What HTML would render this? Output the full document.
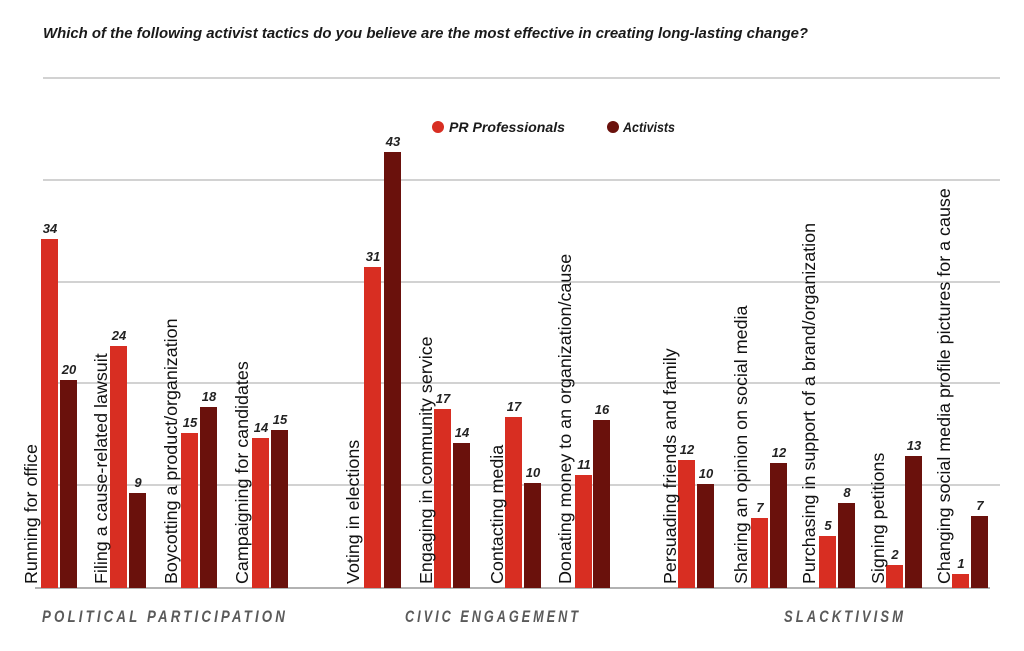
<!DOCTYPE html>
<html><head><meta charset="utf-8"><style>
html,body{margin:0;padding:0;background:#fff;}
svg{display:block;}
.t{font-family:"Liberation Sans",sans-serif;}
.v{font-family:"Liberation Sans",sans-serif;font-weight:bold;font-style:italic;font-size:13px;fill:#222;}
.l{font-family:"Liberation Sans",sans-serif;font-size:17.9px;fill:#111;}
.c{font-family:"Liberation Sans",sans-serif;font-weight:bold;font-style:italic;font-size:17px;fill:#5a5a5a;letter-spacing:4px;}
</style></head><body>
<svg width="1024" height="651" viewBox="0 0 1024 651">
<text x="43" y="38" class="t" font-weight="bold" font-style="italic" font-size="15" fill="#1a1a1a" textLength="765" lengthAdjust="spacingAndGlyphs">Which of the following activist tactics do you believe are the most effective in creating long-lasting change?</text>
<g stroke="#c4c4c4" stroke-width="1.5">
<line x1="43" y1="78" x2="1000" y2="78"/>
<line x1="43" y1="180" x2="1000" y2="180"/>
<line x1="43" y1="282" x2="1000" y2="282"/>
<line x1="43" y1="383" x2="1000" y2="383"/>
<line x1="43" y1="485" x2="1000" y2="485"/>
</g>
<line x1="35" y1="588" x2="990" y2="588" stroke="#999" stroke-width="1.5"/>
<circle cx="438" cy="127" r="6" fill="#d82e22"/>
<text x="449" y="132" class="t" font-weight="bold" font-style="italic" font-size="14" fill="#1a1a1a" textLength="116" lengthAdjust="spacingAndGlyphs">PR Professionals</text>
<circle cx="613" cy="127" r="6" fill="#6a110c"/>
<text x="623" y="132" class="t" font-weight="bold" font-style="italic" font-size="14" fill="#1a1a1a" textLength="52" lengthAdjust="spacingAndGlyphs">Activists</text>
<text x="42" y="622" class="c" textLength="246" lengthAdjust="spacingAndGlyphs">POLITICAL PARTICIPATION</text>
<text x="405" y="622" class="c" textLength="176" lengthAdjust="spacingAndGlyphs">CIVIC ENGAGEMENT</text>
<text x="784" y="622" class="c" textLength="122" lengthAdjust="spacingAndGlyphs">SLACKTIVISM</text>
<g fill="#d82e22">
<rect x="41" y="239" width="17" height="349"/>
<rect x="110" y="346" width="17" height="242"/>
<rect x="181" y="433" width="17" height="155"/>
<rect x="252" y="438" width="17" height="150"/>
<rect x="364" y="267" width="17" height="321"/>
<rect x="434" y="409" width="17" height="179"/>
<rect x="505" y="417" width="17" height="171"/>
<rect x="575" y="475" width="17" height="113"/>
<rect x="678" y="460" width="17" height="128"/>
<rect x="751" y="518" width="17" height="70"/>
<rect x="819" y="536" width="17" height="52"/>
<rect x="886" y="565" width="17" height="23"/>
<rect x="952" y="574" width="17" height="14"/>
</g>
<g fill="#6a110c">
<rect x="60" y="380" width="17" height="208"/>
<rect x="129" y="493" width="17" height="95"/>
<rect x="200" y="407" width="17" height="181"/>
<rect x="271" y="430" width="17" height="158"/>
<rect x="384" y="152" width="17" height="436"/>
<rect x="453" y="443" width="17" height="145"/>
<rect x="524" y="483" width="17" height="105"/>
<rect x="593" y="420" width="17" height="168"/>
<rect x="697" y="484" width="17" height="104"/>
<rect x="770" y="463" width="17" height="125"/>
<rect x="838" y="503" width="17" height="85"/>
<rect x="905" y="456" width="17" height="132"/>
<rect x="971" y="516" width="17" height="72"/>
</g>
<g class="v" text-anchor="middle">
<text x="50" y="233">34</text><text x="69" y="374">20</text>
<text x="119" y="340">24</text><text x="138" y="487">9</text>
<text x="190" y="427">15</text><text x="209" y="401">18</text>
<text x="261" y="432">14</text><text x="280" y="424">15</text>
<text x="373" y="261">31</text><text x="393" y="146">43</text>
<text x="443" y="403">17</text><text x="462" y="437">14</text>
<text x="514" y="411">17</text><text x="533" y="477">10</text>
<text x="584" y="469">11</text><text x="602" y="414">16</text>
<text x="687" y="454">12</text><text x="706" y="478">10</text>
<text x="760" y="512">7</text><text x="779" y="457">12</text>
<text x="828" y="530">5</text><text x="847" y="497">8</text>
<text x="895" y="559">2</text><text x="914" y="450">13</text>
<text x="961" y="568">1</text><text x="980" y="510">7</text>
</g>
<g class="l">
<text transform="translate(37,584) rotate(-90)">Running for office</text>
<text transform="translate(107,584) rotate(-90)">Filing a cause-related lawsuit</text>
<text transform="translate(177,584) rotate(-90)">Boycotting a product/organization</text>
<text transform="translate(248,584) rotate(-90)">Campaigning for candidates</text>
<text transform="translate(359,584) rotate(-90)">Voting in elections</text>
<text transform="translate(432,584) rotate(-90)">Engaging in community service</text>
<text transform="translate(503,584) rotate(-90)">Contacting media</text>
<text transform="translate(571,584) rotate(-90)">Donating money to an organization/cause</text>
<text transform="translate(676,584) rotate(-90)">Persuading friends and family</text>
<text transform="translate(747,584) rotate(-90)">Sharing an opinion on social media</text>
<text transform="translate(815,584) rotate(-90)">Purchasing in support of a brand/organization</text>
<text transform="translate(884,584) rotate(-90)">Signing petitions</text>
<text transform="translate(950,584) rotate(-90)">Changing social media profile pictures for a cause</text>
</g>
</svg>
</body></html>
